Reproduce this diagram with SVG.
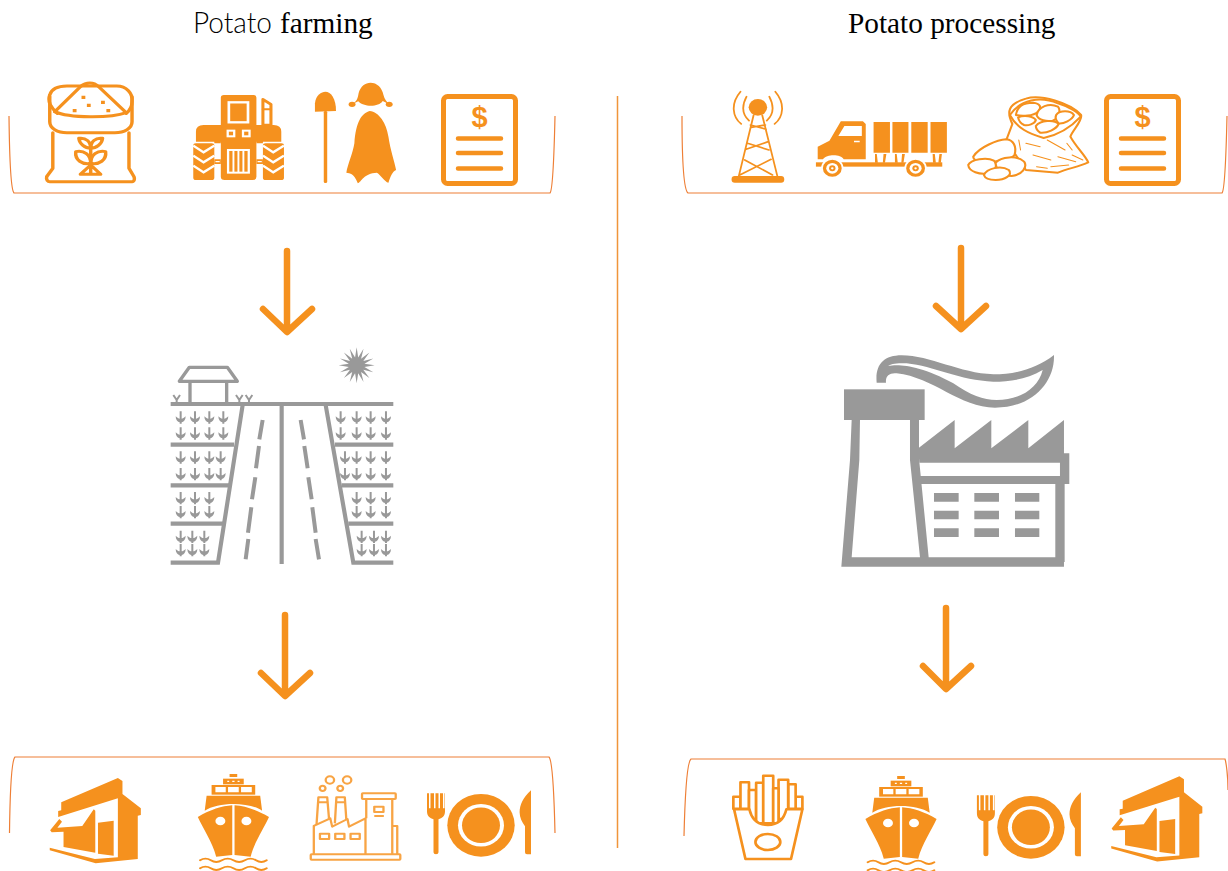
<svg xmlns="http://www.w3.org/2000/svg" xmlns:xlink="http://www.w3.org/1999/xlink" width="1228" height="871" viewBox="0 0 1228 871">
<style>
.t{font-family:"Liberation Serif","Times New Roman",serif;font-size:29.3px;fill:#000}
.tl{font-family:"Lato","Open Sans",sans-serif;font-weight:300;font-size:29.3px;fill:#000}
.o{fill:#F5911E;stroke:none}
.ow{fill:#F5911E;stroke:#fff}
.w{fill:#fff;stroke:none}
.os{fill:none;stroke:#F5911E;stroke-linejoin:round;stroke-linecap:round}
.wf{fill:#fff;stroke:#F5911E;stroke-linejoin:round}
.ws{fill:none;stroke:#fff}
.g{fill:#999;stroke:none}
.gs{fill:none;stroke:#999}
.br{fill:none;stroke:#EE7F36;stroke-width:1.2}
.ar{fill:none;stroke:#F5911E;stroke-width:6.5;stroke-linecap:round;stroke-linejoin:round}
.d{font-family:"Liberation Sans",Arial,sans-serif;font-weight:700;font-size:29px;fill:#F5911E;text-anchor:middle}
</style>
<defs>
<g id="doc">
<rect class="os" x="2.5" y="2.5" width="72" height="87" rx="4" stroke-width="5"/>
<path class="os" stroke-width="4.5" d="M17,44.5H60M17,59H60M17,74.5H60"/>
<text class="d" x="38.5" y="33">$</text>
</g>
<g id="ship">
<rect class="o" x="-10" y="87" width="20" height="9"/>
<rect class="o" x="-27" y="101" width="54" height="17"/>
<path class="w" d="M-16,107h5v4h-5zM-3,107h6v4h-6zM11,107h5v4h-5z"/>
<rect class="o" x="-57" y="120" width="114" height="29"/>
<path class="w" d="M-47,126h27v16h-27zM-14,126h28v16h-28zM20,126h28v16h-28z"/>
<path class="o" d="M-70,152H70L75,197C40,170 -40,170 -75,197Z"/>
<path class="o" d="M-93,216C-60,194 -30,183 -3,181V330L-45,335C-55,290 -80,250 -93,216Z"/>
<path class="o" d="M93,216C60,194 30,183 3,181V330L45,335C55,290 80,250 93,216Z"/>
<circle class="w" cx="-34" cy="228" r="13"/><circle class="w" cx="34" cy="228" r="13"/>
<path class="os" stroke-width="5.5" d="M-87,346Q-73,336 -59,346T-30,346T0,346T30,346T59,346T87,346M-87,370Q-73,360 -59,370T-30,370T0,370T30,370T59,370T87,370"/>
</g>
<g id="plate">
<ellipse class="o" rx="33.7" ry="31.4"/>
<ellipse class="w" rx="23" ry="21.3"/>
<ellipse class="o" rx="19" ry="17.8"/>
<path class="o" d="M-54,-32H-52V-17H-50.5V-32H-47V-17H-45.5V-32H-42.5V-17H-41V-32H-38V-17H-36.5V-32H-36V-14C-36,-9 -39,-7 -42.5,-6V27Q-42.5,29 -45,29Q-47.5,29 -47.5,27V-6C-51,-7 -54,-9 -54,-14Z"/>
<path class="o" d="M50,-35C42,-28 38.6,-20 38.6,-13C38.6,-8 41,-3 44,1V27Q44,29 46,29H50Z"/>
</g>
<g id="shop">
<path class="o" d="M160,172L308,99L320,108V147L368,190V210L360,212V342L250,355L130,316V308L248,342L308,337V160L152,216V198L160,196Z"/>
<path class="o" d="M155,222L162,230L150,248L215,243L245,193L249,197V323L166,306V260L135,262L131,256Z"/>
<path class="o" d="M256,233L297,227V332L256,326Z"/>
</g>
<path id="sprout" class="g" d="M-3,-18H3V4C6,4 10,2 15,-3C15,8 9,14 3,15V19H-3V15C-9,14 -15,8 -15,-3C-10,2 -6,4 -3,4Z"/>
<path id="gv" class="gs" stroke-width="6" d="M-10,-10L0,5L10,-10M0,5V14"/>
</defs>

<text id="title-farming" x="193" y="33" class="tl" textLength="79" lengthAdjust="spacingAndGlyphs">Potato</text>
<text id="title-farming2" x="280" y="33" class="t">farming</text>
<text id="title-processing" x="848" y="33" class="t">Potato processing</text>

<g id="frames">
<line x1="617.5" y1="96" x2="617.5" y2="848" stroke="#F0953A" stroke-width="1.5"/>
<path class="br" d="M9,116C9.5,160 11,190 14,193H550C552,191 554,160 555,116"/>
<path class="br" d="M682,116C682,160 684,190 688,193H1222C1225,190 1226,160 1227,116"/>
<path class="br" d="M9.5,833C10,790 12,760 15,757H549C552,760 554,790 555,833"/>
<path class="br" d="M684,836C685,795 687,762 691,759H1225C1226,762 1228,775 1228,790"/>
</g>

<g id="connectors">
<path class="ar" d="M287,251V331M263,309L287,332L312,309"/>
<path class="ar" d="M961,248V328M936,306L961,329L986,306"/>
<path class="ar" d="M285,615V695M261,673L285,696L310,673"/>
<path class="ar" d="M946,608V688M923,666L946,689L971,666"/>
</g>

<g id="seed-sack" transform="scale(.3827,.3333)">
<g class="os" stroke-width="9">
<path d="M150,340C130,320 125,300 130,285C135,265 150,258 175,258H305C330,258 348,280 345,305C345,320 340,330 330,340"/>
<path d="M143,335L210,260C225,245 245,245 258,260L330,338"/>
<path d="M143,335C180,355 290,355 330,338"/>
<path d="M130,290V365C130,385 150,398 175,398H300C325,398 345,385 345,365V290"/>
<path d="M138,398V505L122,530C120,540 125,545 130,545H345C352,545 352,535 350,530L337,505V398"/>
<path d="M237,440V520M210,523L237,495L263,523Z"/>
<path d="M237,490C215,495 195,480 198,455C220,450 237,465 237,490C259,495 279,480 276,455C254,450 237,465 237,490"/>
<path d="M237,445C222,445 208,432 206,415C225,412 237,425 237,445C252,445 266,432 268,415C249,412 237,425 237,445"/>
</g>
<path class="o" d="M213,287h10v10h-10zM264,302h10v10h-10zM190,327h10v10h-10zM227,311h10v10h-10zM278,327h10v10h-10z"/>
</g>

<g id="tractor" transform="scale(.3827,.3333)">
<rect class="o" x="577" y="285" width="93" height="100" rx="8"/>
<rect class="ow" x="598" y="307" width="50" height="60" stroke-width="7"/>
<path class="wf" stroke-width="8" d="M687,375V298L708,313V375Z"/>
<path class="os" stroke-width="6" d="M687,328H708"/>
<path class="o" d="M512,425V395Q512,375 532,375H715Q735,375 735,395V425H687V430H670V425H577V430H560V425Z"/>
<rect class="o" x="577" y="380" width="93" height="160" rx="10"/>
<rect class="o" x="505" y="430" width="55" height="110" rx="7"/>
<rect class="o" x="687" y="430" width="55" height="110" rx="7"/>
<path class="ws" stroke-width="7" d="M505,437L532,457L560,437M505,467L532,487L560,467M505,497L532,517L560,497M687,437L714,457L742,437M687,467L714,487L742,467M687,497L714,517L742,497"/>
<rect class="ow" x="595" y="392" width="17" height="17" stroke-width="6"/>
<rect class="ow" x="635" y="392" width="17" height="17" stroke-width="6"/>
<rect class="ow" x="596" y="450" width="54" height="68" stroke-width="6"/>
<path class="ws" stroke-width="5" d="M610,450V518M623,450V518M636,450V518"/>
<path class="o" d="M560,478H577V492H560ZM670,478H687V492H670Z"/>
<path class="ws" stroke-width="4" d="M563,485H574M673,485H684"/>
</g>

<g id="farmer" transform="scale(.3827,.3333)">
<path class="o" d="M823,335V310C825,285 840,275 850,275C865,275 878,295 878,333Z"/>
<rect class="o" x="846" y="333" width="9" height="216" rx="4"/>
<path class="o" d="M920,313C932,305 935,295 937,280C942,258 955,248 968,248C985,248 998,262 1002,285C1005,298 1010,305 1017,313L1000,303C990,322 950,322 936,304Z"/>
<ellipse class="o" cx="920" cy="313" rx="9" ry="8"/><ellipse class="o" cx="1017" cy="313" rx="9" ry="8"/>
<path class="o" d="M966,333C945,340 930,365 926,430C922,460 908,495 905,518C915,520 925,520 935,550C945,545 950,520 985,518C995,525 1005,545 1015,548C1020,530 1025,515 1035,510C1030,480 1020,450 1015,410C1010,370 990,335 966,333Z"/>
</g>

<use id="invoice-farming" href="#doc" xlink:href="#doc" x="441" y="94"/>

<g id="tower" transform="translate(670,0) scale(.3559,.3333)">
<ellipse class="o" cx="247" cy="322" rx="26" ry="25"/>
<g class="os" stroke-width="5">
<path d="M198,275C170,310 175,350 200,372M215,290C200,320 205,345 222,362M296,275C324,310 319,350 294,372M279,290C294,320 289,345 272,362"/>
<path d="M235,345L193,530M259,345L302,530M228,382L268,375M226,375L270,388M218,430L278,450M276,425L214,448M210,480L288,525M284,478L196,525"/>
</g>
<rect class="o" x="173" y="528" width="148" height="20" rx="9"/>
</g>

<g id="truck" transform="translate(670,0) scale(.3559,.3333)">
<path class="o" d="M480,364H542L550,372V478H488C480,462 440,462 430,478H415V440L448,422Z"/>
<path class="w" d="M490,378H539V408H473ZM517,422h16v5h-16z"/>
<path class="o" d="M572,366h46v92h-46zM625,366h45v92h-45zM678,366h46v92h-46zM732,366h46v92h-46z"/>
<path class="o" d="M576,462h5l3,26h-8zM600,462h8l-4,26h-6zM632,462h5l3,26h-8zM652,462h8l-4,26h-6zM738,462h6l3,26h-8zM757,462h7l-3,26h-7z"/>
<rect class="o" x="410" y="487" width="355" height="13"/>
<ellipse class="ow" cx="456" cy="505" rx="29" ry="28" stroke-width="5"/>
<ellipse class="ow" cx="690" cy="505" rx="29" ry="28" stroke-width="5"/>
<ellipse class="w" cx="456" cy="505" rx="17" ry="16"/><ellipse class="w" cx="690" cy="505" rx="17" ry="16"/>
<ellipse class="o" cx="456" cy="505" rx="9" ry="9"/><ellipse class="o" cx="690" cy="505" rx="9" ry="9"/>
<ellipse class="w" cx="456" cy="505" rx="3.5" ry="3.5"/><ellipse class="w" cx="690" cy="505" rx="3.5" ry="3.5"/>
</g>

<g id="potato-sack" transform="translate(670,0) scale(.3559,.3333)">
<g class="wf" stroke-width="6">
<path d="M962,372C945,335 950,312 1000,296C1040,282 1125,308 1155,345C1160,362 1130,392 1125,410C1140,440 1168,468 1175,487C1150,500 1120,505 1090,518L1000,510C975,470 955,440 945,420Z"/>
<path d="M955,345C985,298 1040,288 1090,310C1122,320 1150,340 1154,350C1135,372 1105,402 1050,414C1010,402 975,385 955,345Z"/>
<path d="M972,345C975,320 990,308 1020,308C1040,310 1045,322 1035,335C1020,348 990,350 972,345Z"/>
<path d="M1030,345C1035,320 1065,308 1090,320C1098,330 1095,355 1075,362C1060,365 1035,362 1030,345Z"/>
<path d="M1085,345C1095,330 1125,330 1135,345C1130,360 1105,372 1092,370C1085,362 1082,352 1085,345Z"/>
<path d="M978,352C995,345 1020,348 1028,360C1025,372 1005,378 995,375C985,370 980,362 978,352Z"/>
<path d="M1028,378C1040,360 1080,358 1092,372C1085,388 1060,400 1040,398C1032,392 1028,386 1028,378Z"/>
<path d="M852,470C870,440 920,420 945,418C965,420 975,440 968,465C960,480 900,490 870,485C860,482 852,478 852,470Z"/>
<path d="M838,495C845,478 890,470 910,482C922,495 915,515 895,520C870,525 840,515 838,495Z"/>
<path d="M915,488C930,470 975,465 995,485C1005,500 990,525 960,528C935,528 915,510 915,488Z"/>
<path d="M882,525C890,505 930,495 952,510C965,525 940,540 915,540C900,540 885,535 882,525Z"/>
</g>
<path class="os" stroke-width="3" d="M1000,430L1040,440M1060,420L1110,450M1020,465L1070,480M1090,470L1140,485M1115,430L1130,450M980,420L985,450M1070,500L1120,495M1030,500L1060,505M1130,465L1160,480"/>
</g>

<use id="invoice-processing" href="#doc" xlink:href="#doc" x="1104" y="94"/>

<g id="potato-farm" transform="translate(150,340) scale(.3333)">
<g class="gs" stroke-width="12.5">
<path d="M62,192H730M395,192V672"/>
<path d="M278,195L204,668H62M527,195L610,668H730"/>
<path d="M62,314H252M62,436H238M62,551H220M555,314H730M575,436H730M595,551H730"/>
<path stroke-width="12" d="M338,240L328,298M327,318L318,385M316,412L306,478M304,502L294,578M295,597L287,658M452,240L462,298M463,318L473,385M475,412L485,478M487,502L497,578M497,597L507,658"/>
<path stroke-width="10" stroke-linejoin="round" d="M118,82H232L262,124H88ZM120,124V192M230,124V192"/>
</g>
<use href="#gv" xlink:href="#gv" x="80" y="175"/><use href="#gv" xlink:href="#gv" x="268" y="175"/><use href="#gv" xlink:href="#gv" x="297" y="175"/>
<path class="g" transform="translate(620,76)" d="M54,0L23.5,4.7L49.9,20.7L20,13.3L38.2,38.2L13.3,20L20.7,49.9L4.7,23.5L0,54L-4.7,23.5L-20.7,49.9L-13.3,20L-38.2,38.2L-20,13.3L-49.9,20.7L-23.5,4.7L-54,0L-23.5,-4.7L-49.9,-20.7L-20,-13.3L-38.2,-38.2L-13.3,-20L-20.7,-49.9L-4.7,-23.5L0,-54L4.7,-23.5L20.7,-49.9L13.3,-20L38.2,-38.2L20,-13.3L49.9,-20.7L23.5,-4.7Z"/>
<g id="sprouts">
<use href="#sprout" xlink:href="#sprout" x="92" y="232"/><use href="#sprout" xlink:href="#sprout" x="135" y="232"/><use href="#sprout" xlink:href="#sprout" x="178" y="232"/><use href="#sprout" xlink:href="#sprout" x="220" y="232"/>
<use href="#sprout" xlink:href="#sprout" x="92" y="280"/><use href="#sprout" xlink:href="#sprout" x="135" y="280"/><use href="#sprout" xlink:href="#sprout" x="178" y="280"/><use href="#sprout" xlink:href="#sprout" x="220" y="280"/>
<use href="#sprout" xlink:href="#sprout" x="92" y="352"/><use href="#sprout" xlink:href="#sprout" x="135" y="352"/><use href="#sprout" xlink:href="#sprout" x="178" y="352"/><use href="#sprout" xlink:href="#sprout" x="212" y="352"/>
<use href="#sprout" xlink:href="#sprout" x="92" y="402"/><use href="#sprout" xlink:href="#sprout" x="135" y="402"/><use href="#sprout" xlink:href="#sprout" x="178" y="402"/><use href="#sprout" xlink:href="#sprout" x="212" y="402"/>
<use href="#sprout" xlink:href="#sprout" x="92" y="474"/><use href="#sprout" xlink:href="#sprout" x="135" y="474"/><use href="#sprout" xlink:href="#sprout" x="178" y="474"/>
<use href="#sprout" xlink:href="#sprout" x="92" y="516"/><use href="#sprout" xlink:href="#sprout" x="135" y="516"/><use href="#sprout" xlink:href="#sprout" x="178" y="516"/>
<use href="#sprout" xlink:href="#sprout" x="92" y="590"/><use href="#sprout" xlink:href="#sprout" x="127" y="590"/><use href="#sprout" xlink:href="#sprout" x="163" y="590"/>
<use href="#sprout" xlink:href="#sprout" x="92" y="630"/><use href="#sprout" xlink:href="#sprout" x="127" y="630"/><use href="#sprout" xlink:href="#sprout" x="163" y="630"/>
<use href="#sprout" xlink:href="#sprout" x="572" y="232"/><use href="#sprout" xlink:href="#sprout" x="620" y="232"/><use href="#sprout" xlink:href="#sprout" x="662" y="232"/><use href="#sprout" xlink:href="#sprout" x="708" y="232"/>
<use href="#sprout" xlink:href="#sprout" x="572" y="280"/><use href="#sprout" xlink:href="#sprout" x="620" y="280"/><use href="#sprout" xlink:href="#sprout" x="662" y="280"/><use href="#sprout" xlink:href="#sprout" x="708" y="280"/>
<use href="#sprout" xlink:href="#sprout" x="585" y="352"/><use href="#sprout" xlink:href="#sprout" x="620" y="352"/><use href="#sprout" xlink:href="#sprout" x="662" y="352"/><use href="#sprout" xlink:href="#sprout" x="708" y="352"/>
<use href="#sprout" xlink:href="#sprout" x="585" y="402"/><use href="#sprout" xlink:href="#sprout" x="620" y="402"/><use href="#sprout" xlink:href="#sprout" x="662" y="402"/><use href="#sprout" xlink:href="#sprout" x="708" y="402"/>
<use href="#sprout" xlink:href="#sprout" x="620" y="474"/><use href="#sprout" xlink:href="#sprout" x="662" y="474"/><use href="#sprout" xlink:href="#sprout" x="708" y="474"/>
<use href="#sprout" xlink:href="#sprout" x="620" y="516"/><use href="#sprout" xlink:href="#sprout" x="662" y="516"/><use href="#sprout" xlink:href="#sprout" x="708" y="516"/>
<use href="#sprout" xlink:href="#sprout" x="635" y="590"/><use href="#sprout" xlink:href="#sprout" x="672" y="590"/><use href="#sprout" xlink:href="#sprout" x="708" y="590"/>
<use href="#sprout" xlink:href="#sprout" x="635" y="630"/><use href="#sprout" xlink:href="#sprout" x="672" y="630"/><use href="#sprout" xlink:href="#sprout" x="708" y="630"/>
</g>
</g>

<g id="processing-plant" transform="translate(820,340) scale(.3333)">
<path class="g" fill-rule="evenodd" d="M170,128C165,75 190,46 245,46C330,46 420,100 520,103C590,103 650,85 702,45C705,125 640,203 525,203C420,203 340,112 230,100C208,98 196,108 198,128ZM205,78C235,72 300,75 400,130C450,165 490,180 530,180C600,180 655,145 668,90C620,118 570,125 520,125C420,122 340,78 260,70C230,68 210,72 205,78Z"/>
<rect class="g" x="72" y="148" width="242" height="92"/>
<path class="g" d="M295,325L404,240V325L514,240V325L625,240V325L732,240V340H748V432H734V666H706V432H302L300,408H720V368H298Z"/>
<path class="g" d="M95,240H120L118,360L95,652H300L270,360V240H297V355L326,652H732V680H64L90,360Z"/>
<path class="g" d="M342,459h74v26h-74zM463,459h74v26h-74zM585,459h73v26h-73zM342,512h74v26h-74zM463,512h74v26h-74zM585,512h73v26h-73zM342,565h74v26h-74zM463,565h74v26h-74zM585,565h73v26h-73z"/>
</g>

<use id="store-farming" href="#shop" xlink:href="#shop" transform="translate(0,745) scale(.3827,.3333)"/>
<use id="ship-farming" href="#ship" xlink:href="#ship" transform="translate(233.4,745) scale(.3827,.3333)"/>

<g id="factory-buyer" transform="translate(0,745) scale(.3827,.3333)">
<g fill="none" stroke="#F8A444" stroke-width="6" stroke-linejoin="round">
<rect x="812" y="328" width="234" height="16" rx="2"/>
<path d="M820,328V243L863,220L868,245L908,222L912,245L955,220V328"/>
<path d="M957,220V162M1025,162V328M1025,243H1038V328"/>
<rect x="946" y="145" width="88" height="17" rx="2"/>
<path d="M827,240L832,157H855L860,225M875,235L879,157H901L905,225M832,172H855M879,172H901"/>
<rect x="836" y="266" width="24" height="16"/><rect x="876" y="266" width="24" height="16"/><rect x="916" y="266" width="24" height="16"/>
<rect x="978" y="185" width="24" height="16"/><path d="M978,213H1003"/>
<ellipse cx="862" cy="105" rx="11" ry="11"/><ellipse cx="907" cy="105" rx="11" ry="11"/><ellipse cx="843" cy="130" rx="7.5" ry="8"/><ellipse cx="889" cy="130" rx="7.5" ry="8"/>
</g>
</g>

<use id="plate-farming" href="#plate" xlink:href="#plate" transform="translate(481,825.3)"/>

<g id="fries" transform="translate(670,745) scale(.3559,.3333)">
<g class="wf" stroke-width="7.5">
<rect x="178" y="155" width="20" height="36"/>
<rect x="353" y="155" width="19" height="36"/>
<rect x="198" y="112" width="24" height="79"/>
<rect x="332" y="118" width="21" height="73"/>
<rect x="222" y="135" width="20" height="90"/>
<rect x="305" y="104" width="27" height="118"/>
<rect x="242" y="113" width="20" height="122"/>
<rect x="262" y="92" width="28" height="143"/>
<rect x="290" y="130" width="15" height="105"/>
<path d="M180,193L212,342H340L372,193H327C320,225 300,240 275,240C250,240 230,225 223,193Z"/>
<ellipse cx="275" cy="291" rx="35" ry="24"/>
</g>
</g>

<use id="ship-processing" href="#ship" xlink:href="#ship" transform="translate(901,747) scale(.3827,.3333)"/>
<use id="plate-processing" href="#plate" xlink:href="#plate" transform="translate(1030.9,827.3)"/>
<use id="store-processing" href="#shop" xlink:href="#shop" transform="translate(1061.5,743.3) scale(.3827,.3333)"/>
</svg>
